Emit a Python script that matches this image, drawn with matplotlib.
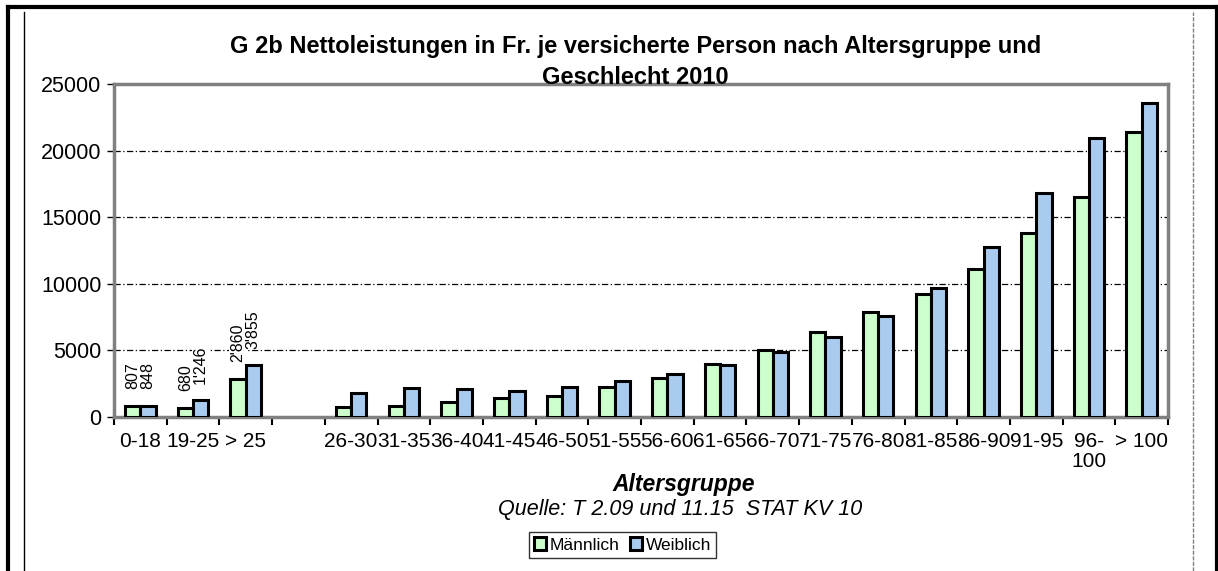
#!/usr/bin/env python3
"""Bar chart: net benefits in Fr. per insured person by age group and sex, 2010.

Draws paired bars (Männlich / Weiblich) per age group, Excel-like styling,
and writes the figure to out.png.
"""
from __future__ import annotations

import sys

import matplotlib
matplotlib.use("Agg")
import matplotlib.pyplot as plt
import numpy as np
from matplotlib.lines import Line2D

CATEGORIES = ["0-18", "19-25", "> 25", "", "26-30", "31-35", "36-40", "41-45",
              "46-50", "51-55", "56-60", "61-65", "66-70", "71-75", "76-80",
              "81-85", "86-90", "91-95", "96-\n100", "> 100"]
MAENNLICH = [807, 680, 2860, np.nan, 760, 840, 1120, 1400, 1580, 2250, 2920,
             3980, 5050, 6350, 7850, 9230, 11100, 13780, 16500, 21400]
WEIBLICH = [848, 1246, 3855, np.nan, 1780, 2180, 2070, 1970, 2270, 2680, 3220,
            3900, 4850, 6000, 7550, 9680, 12750, 16800, 20950, 23550]
N_LABELLED = 3  # only the first three groups carry data labels
Y_TICKS = [0, 5000, 10000, 15000, 20000, 25000]

GREEN = "#CCFFCC"
BLUE = "#A9CBEF"
GREY = "#808080"


def fmt(v: float) -> str:
    s = f"{int(round(v)):,}"
    return s.replace(",", "'")


def make_plot(out: str) -> str:
    plt.rcParams["font.family"] = ["Liberation Sans", "DejaVu Sans"]
    fig, ax = plt.subplots(figsize=(12.18, 5.71), dpi=100)
    fig.subplots_adjust(left=0.0936, right=0.959, bottom=0.270, top=0.853)

    x = np.arange(len(CATEGORIES)) + 0.5
    w = 0.29
    bars_m = ax.bar(x - w / 2, MAENNLICH, w, color=GREEN, edgecolor="black",
                    linewidth=2.2, label="Männlich", zorder=3)
    bars_w = ax.bar(x + w / 2, WEIBLICH, w, color=BLUE, edgecolor="black",
                    linewidth=2.2, label="Weiblich", zorder=3)

    # data labels, rotated, on the first groups only
    for bars, vals in ((bars_m, MAENNLICH), (bars_w, WEIBLICH)):
        for b, v in list(zip(bars, vals))[:N_LABELLED]:
            ax.annotate(fmt(v), (b.get_x() + b.get_width() / 2, v),
                        xytext=(0, 12), textcoords="offset points",
                        rotation=90, ha="center", va="bottom", fontsize=11.5,
                        bbox=dict(facecolor="white", edgecolor="none", pad=1),
                        zorder=4)

    ax.set_xlim(0, len(CATEGORIES))
    ax.set_ylim(0, 25000)
    ax.set_yticks(Y_TICKS)
    ax.set_yticklabels([str(t) for t in Y_TICKS], fontsize=15.5)
    ax.tick_params(axis="y", length=5, width=1, color="black", pad=4)

    ax.set_xticks(np.arange(len(CATEGORIES) + 1))  # boundaries
    ax.set_xticklabels([])
    ax.tick_params(axis="x", which="major", length=6, width=1.5, color="black")
    ax.set_xticks(x, minor=True)
    ax.set_xticklabels(CATEGORIES, minor=True, fontsize=15, va="top",
                       linespacing=1.05)
    ax.tick_params(axis="x", which="minor", length=0, pad=11)

    for y in Y_TICKS[1:-1]:
        ax.axhline(y, color="black", lw=0.9, ls=(0, (5, 2, 1, 2)), zorder=1)
    for side in ("left", "top", "right", "bottom"):
        ax.spines[side].set_color(GREY)
        ax.spines[side].set_linewidth(2.5)

    fig.text(0.522, 0.918, "G 2b Nettoleistungen in Fr. je versicherte Person nach Altersgruppe und",
             ha="center", va="center", fontsize=17, fontweight="bold")
    fig.text(0.522, 0.865, "Geschlecht 2010", ha="center", va="center",
             fontsize=17, fontweight="bold")
    fig.text(0.561, 0.152, "Altersgruppe", ha="center", va="center",
             fontsize=16.5, fontweight="bold", style="italic")
    fig.text(0.558, 0.108, "Quelle: T 2.09 und 11.15  STAT KV 10", ha="center",
             va="center", fontsize=15.5, style="italic")

    leg = fig.legend(loc="center", bbox_to_anchor=(0.511, 0.0455), ncol=2,
                     fontsize=12.5, frameon=True, fancybox=False, handlelength=0.7,
                     handleheight=0.7, handletextpad=0.2, columnspacing=0.6,
                     borderpad=0.3, borderaxespad=0)
    leg.get_frame().set_edgecolor("black")
    leg.get_frame().set_linewidth(1)

    # chart-area frame
    fig.add_artist(Line2D([8 / 1218, 8 / 1218], [0, 1 - 7 / 571], color="black", lw=3))
    fig.add_artist(Line2D([8 / 1218, 1], [1 - 7 / 571, 1 - 7 / 571], color="black", lw=3))
    fig.add_artist(Line2D([1 - 1 / 1218, 1 - 1 / 1218], [0, 1 - 7 / 571], color="black", lw=3))
    fig.add_artist(Line2D([24 / 1218, 24 / 1218], [0, 1 - 12 / 571], color="black", lw=1))
    fig.add_artist(Line2D([1193 / 1218, 1193 / 1218], [0, 1 - 12 / 571], color=GREY,
                          lw=1, ls=(0, (3, 1))))

    fig.savefig(out, dpi=100)
    plt.close(fig)
    return out


def main() -> int:
    make_plot("out.png")
    return 0


if __name__ == "__main__":
    sys.exit(main())
